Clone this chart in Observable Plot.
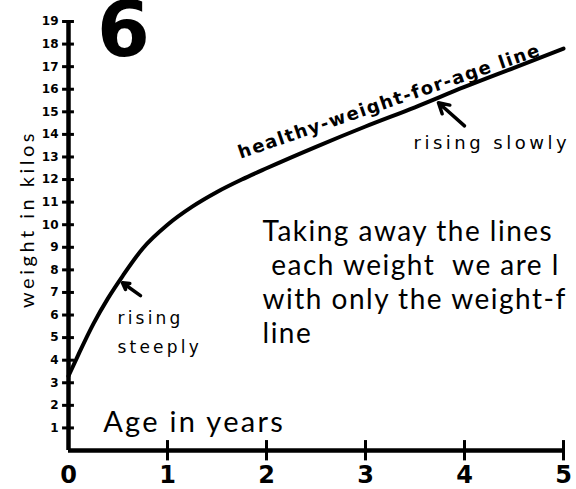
<!DOCTYPE html>
<html>
<head>
<meta charset="utf-8">
<script src="https://cdn.jsdelivr.net/npm/d3@7"></script>
<script src="https://cdn.jsdelivr.net/npm/@observablehq/plot@0.6"></script>
<style>
  html, body { margin: 0; padding: 0; background: #fff; }
  #chart svg { display: block; }
</style>
</head>
<body>
<div id="chart"></div>
<script>
// Healthy weight-for-age line
const ages    = [0, 0.1, 0.25, 0.4, 0.55, 0.75, 1, 1.25, 1.5, 1.75, 2, 2.5, 3, 3.5, 4, 4.5, 5];
const weights = [3.3, 4.25, 5.6, 6.75, 7.75, 8.95, 10.0, 10.8, 11.45, 12.0, 12.5, 13.45, 14.35, 15.2, 16.1, 16.95, 17.8];

// Tick labels
const yTickLabels = [1, 2, 3, 4, 5, 6, 7, 8, 9, 10, 11, 12, 13, 14, 15, 16, 17, 18, 19];
const xTickLabels = [0, 1, 2, 3, 4, 5];

// Texts
const chartNumber = "6";
const yAxisTitle = "weight in kilos";
const xAxisTitle = "Age in years";
const lineLabel = "healthy-weight-for-age line";
const slowLabel = "rising slowly";
const steepLabel = "rising\nsteeply";
const bodyText = "Taking away the lines\n each weight \u00a0we are l\nwith only the weight-f\nline";

const data = ages.map((a, i) => ({age: a, weight: weights[i]}));

const chart = Plot.plot({
  width: 576,
  height: 489,
  marginLeft: 68,
  marginRight: 13,
  marginTop: 21,
  marginBottom: 39,
  style: {fontFamily: "'DejaVu Sans', sans-serif", background: "#fff", color: "#000", overflow: "visible"},
  x: {domain: [0, 5], axis: null},
  y: {domain: [0, 19], axis: null},
  marks: [
    // axes lines
    Plot.ruleX([0], {y1: 0, y2: 19, stroke: "#000", strokeWidth: 4.5}),
    Plot.ruleY([0], {x1: 0, x2: 5.02, stroke: "#000", strokeWidth: 4.5}),
    // y tick crosses
    Plot.ruleY(yTickLabels, {y: d => d, x1: -0.06, x2: 0.06, stroke: "#000", strokeWidth: 3}),
    // x tick crosses
    Plot.ruleX(xTickLabels.filter(d => d > 0), {x: d => d, y1: -0.46, y2: 0.44, stroke: "#000", strokeWidth: 3}),
    // y tick labels (text mark 0)
    Plot.text(yTickLabels, {x: 0, y: d => d, text: d => String(d), dx: -10, textAnchor: "end",
      fontWeight: "bold", fontSize: 12, fill: "#000"}),
    // x tick labels (1)
    Plot.text(xTickLabels, {x: d => d, y: 0, text: d => String(d), dy: 25, textAnchor: "middle",
      fontWeight: "bold", fontSize: 24, fill: "#000"}),
    // curve
    Plot.line(data, {x: "age", y: "weight", curve: "monotone-x", stroke: "#000", strokeWidth: 4}),
    // big number (2)
    Plot.text([chartNumber], {frameAnchor: "top-left", text: d => d, dx: 55, dy: 34, lineAnchor: "bottom",
      textAnchor: "middle", fontSize: 76, fontWeight: "bold", fill: "#000"}),
    // y axis title (3)
    Plot.text([yAxisTitle], {frameAnchor: "left", text: d => d, rotate: -90, dx: -35, dy: -17,
      lineAnchor: "bottom", textAnchor: "middle", fontSize: 20, fill: "#000",
      fontFamily: "Lato, sans-serif"}),
    // x axis title (4)
    Plot.text([xAxisTitle], {x: 0.35, y: 0.8, text: d => d, textAnchor: "start", lineAnchor: "bottom",
      fontSize: 29, fill: "#000", fontFamily: "Lato, sans-serif"}),
    // line label (5)
    Plot.text([lineLabel], {x: 3.26, y: 15.22, text: d => d, rotate: -19, textAnchor: "middle",
      lineAnchor: "bottom", fontSize: 18, fontWeight: "bold", fill: "#000"}),
    // rising slowly (6)
    Plot.text([slowLabel], {x: 3.485, y: 13.36, text: d => d, textAnchor: "start", lineAnchor: "bottom",
      fontSize: 18, fill: "#000"}),
    Plot.arrow([{x1: 4.0, y1: 14.38, x2: 3.737, y2: 15.4}], {x1: "x1", y1: "y1", x2: "x2", y2: "y2",
      stroke: "#000", strokeWidth: 3.5, headLength: 10}),
    // rising steeply (7)
    Plot.text([steepLabel], {x: 0.495, y: 4.34, text: d => d, textAnchor: "start", lineAnchor: "bottom",
      fontSize: 17, fill: "#000", lineHeight: 1.65}),
    Plot.arrow([{x1: 0.727, y1: 6.86, x2: 0.545, y2: 7.43}], {x1: "x1", y1: "y1", x2: "x2", y2: "y2",
      stroke: "#000", strokeWidth: 3.5, headLength: 9}),
    // body text (8)
    Plot.text([bodyText], {x: 1.96, y: 4.78, text: d => d, textAnchor: "start", lineAnchor: "bottom",
      fontSize: 28, fill: "#000", fontFamily: "Lato, sans-serif", lineHeight: 1.21})
  ]
});

// Letter spacing per text mark (Plot's text mark has no letterSpacing option)
const spacing = [0, 0, 0, 3.5, 2.3, 1.5, 3.5, 3.2, 1.5];
d3.select(chart).selectAll('g[aria-label="text"]').each(function(_, i) {
  if (spacing[i]) d3.select(this).attr("letter-spacing", spacing[i]);
});

document.getElementById("chart").appendChild(chart);
</script>
</body>
</html>
